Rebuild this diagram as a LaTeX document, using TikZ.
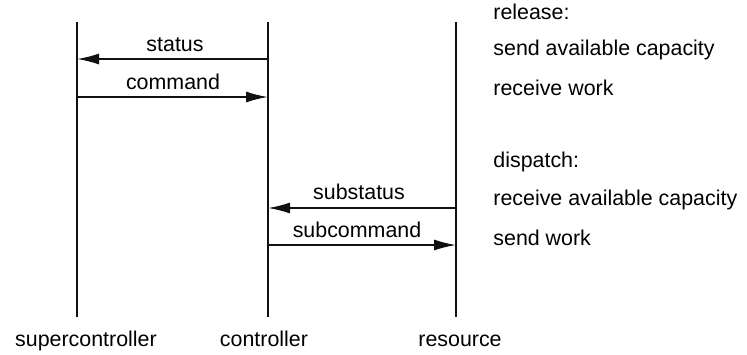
\documentclass[tikz,border=0pt]{standalone}
\usepackage{fontspec}
\setmainfont{Liberation Sans}
\usepackage{tikz}
\usetikzlibrary{positioning, arrows.meta, calc}
\definecolor{inkblack}{HTML}{111111}

\begin{document}
\begin{tikzpicture}[x=0.5pt, y=-0.5pt,
    lifeline/.style={draw=inkblack, line width=1.1pt},
    msgarrow/.style={draw=inkblack, line width=0.8pt, -{Latex[length=11pt, width=5.5pt]}},
    msglabel/.style={font=\fontsize{10.7}{12}\selectfont, inner sep=1pt, anchor=base},
    notetext/.style={font=\fontsize{10.7}{12}\selectfont, anchor=west, inner sep=0pt}]
  \useasboundingbox (0,0) rectangle (747,354);

  % lifelines
  \coordinate (super-top) at (77,22);   \coordinate (super-bot) at (77,317);
  \coordinate (ctrl-top) at (268,22);   \coordinate (ctrl-bot) at (268,317);
  \coordinate (res-top) at (456,22);    \coordinate (res-bot) at (456,317);
  \draw[lifeline] (super-top) -- (super-bot);
  \draw[lifeline] (ctrl-top) -- (ctrl-bot);
  \draw[lifeline] (res-top) -- (res-bot);

  \node[msglabel] (super) at (86,346) {supercontroller};
  \node[msglabel] (ctrl) at (264,346) {controller};
  \node[msglabel] (res) at (460,346) {resource};

  % messages
  \coordinate (status-from) at (268,59);   \coordinate (status-to) at (77,59);
  \coordinate (cmd-from) at (77,97);       \coordinate (cmd-to) at (268,97);
  \coordinate (sub-from) at (456,208);     \coordinate (sub-to) at (268,208);
  \coordinate (subcmd-from) at (268,245);  \coordinate (subcmd-to) at (456,245);
  \draw[msgarrow] (status-from) -- (status-to);
  \draw[msgarrow] (cmd-from) -- (cmd-to);
  \draw[msgarrow] (sub-from) -- (sub-to);
  \draw[msgarrow] (subcmd-from) -- (subcmd-to);

  \node[msglabel] (status) at (175,51) {status};
  \node[msglabel] (command) at (173,89) {command};
  \node[msglabel] (substatus) at (359,199) {substatus};
  \node[msglabel] (subcommand) at (357,237) {subcommand};

  % notes
  \node[notetext] (release) at (493,12) {release:};
  \node[notetext] (rel-send) at (493,50) {send available capacity};
  \node[notetext] (rel-recv) at (493,88) {receive work};
  \node[notetext] (dispatch) at (493,162) {dispatch:};
  \node[notetext] (dis-recv) at (493,200) {receive available capacity};
  \node[notetext] (dis-send) at (493,238) {send work};
\end{tikzpicture}
\end{document}
